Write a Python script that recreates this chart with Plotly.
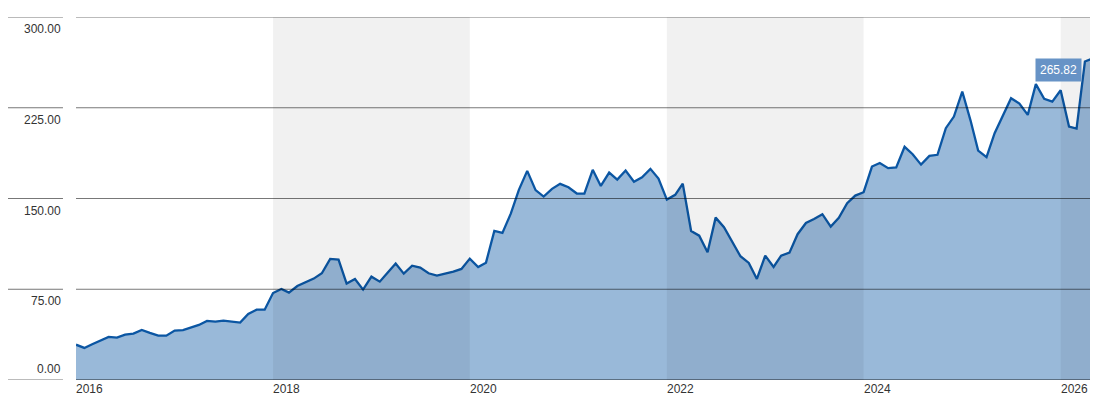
import pandas as pd
import plotly.graph_objects as go

# ---- data (monthly) ----
dates = list(pd.date_range("2016-01-01", periods=125, freq="MS"))
values = [
    29.2, 26.5, 29.5, 32.5, 35.6, 35.0, 37.5, 38.3, 41.3, 38.9, 36.6, 36.6,
    40.8, 41.3, 43.6, 45.5, 48.8, 48.2, 49.0, 48.5, 47.4, 54.6, 58.1, 58.1,
    71.9, 75.2, 72.2, 77.7, 80.5, 83.8, 88.2, 100.1, 99.5, 79.7, 83.5, 74.7,
    85.4, 81.3, 88.5, 96.2, 87.9, 94.5, 92.9, 88.2, 86.3, 87.9, 89.6, 91.8,
    100.3, 93.4, 97.0, 123.2, 121.6, 137.5, 157.1, 172.8, 156.9, 151.6, 158.0, 162.1,
    159.3, 154.1, 154.1, 173.7, 160.4, 171.4, 165.6, 173.1, 163.9, 167.6, 174.5, 166.5,
    149.1, 153.0, 162.3, 123.2, 119.3, 105.6, 134.2, 126.3, 113.5, 102.3, 96.8, 83.5,
    102.8, 93.4, 102.8, 105.3, 120.5, 129.8, 133.1, 137.0, 126.8, 134.0, 146.1, 152.4,
    155.2, 176.4, 179.4, 175.1, 175.6, 192.7, 186.6, 178.0, 185.2, 186.1, 208.1, 217.7,
    238.4, 214.2, 189.6, 184.2, 204.0, 218.6, 232.9, 228.5, 219.1, 244.5, 232.4, 230.1,
    239.5, 209.5, 207.8, 263.2, 265.82,
]
y_ticks = [0, 75, 150, 225, 300]
y_tick_labels = ["0.00", "75.00", "150.00", "225.00", "300.00"]
x_tick_years = ["2016", "2018", "2020", "2022", "2024", "2026"]
bands = [("2018-01-01", "2020-01-01"), ("2022-01-01", "2024-01-01"), ("2026-01-01", "2026-05-01")]
last_label = "265.82"

FONT = "Liberation Sans Narrow, Arial Narrow, Liberation Sans, Arial, sans-serif"
TXT = "#333333"
FS = 12

fig = go.Figure()
fig.add_trace(go.Scatter(
    x=dates, y=values, mode="lines",
    line=dict(color="#0b56a3", width=2.3),
    fill="tozeroy", fillcolor="#99b9d9",
    hoverinfo="skip", showlegend=False,
))

shapes = []
for x0, x1 in bands:
    shapes.append(dict(type="rect", xref="x", yref="paper", x0=x0, x1=x1, y0=0, y1=1,
                       fillcolor="rgba(0,0,0,0.055)", line=dict(width=0), layer="above"))
for v in y_ticks:
    shapes.append(dict(type="line", xref="paper", yref="y", x0=0, x1=1, y0=v, y1=v,
                       line=dict(color="rgba(0,0,0,0.53)", width=1.5 if v == 0 else 1),
                       layer="above"))
    shapes.append(dict(type="line", xref="paper", yref="y", x0=-0.0669, x1=-0.0128, y0=v, y1=v,
                       line=dict(color="#777777", width=1), layer="above"))

annotations = []
for v, lab in zip(y_ticks, y_tick_labels):
    if v == 0:
        annotations.append(dict(xref="paper", yref="y", x=-0.0128, y=v, text=lab, showarrow=False,
                                xanchor="right", yanchor="bottom", yshift=2,
                                font=dict(family=FONT, size=FS, color=TXT)))
    else:
        annotations.append(dict(xref="paper", yref="y", x=-0.0128, y=v, text=lab, showarrow=False,
                                xanchor="right", yanchor="top", yshift=-3,
                                font=dict(family=FONT, size=FS, color=TXT)))
for yr in x_tick_years:
    annotations.append(dict(xref="x", yref="paper", x=f"{yr}-01-01", y=0, text=yr, showarrow=False,
                            xanchor="left", yanchor="top", xshift=-2, yshift=0,
                            font=dict(family=FONT, size=FS, color=TXT)))
annotations.append(dict(xref="x", yref="y", x=dates[-1], y=values[-1], text=last_label,
                        showarrow=False, xanchor="right", yanchor="top", xshift=-11, yshift=0,
                        bgcolor="#6793c6", borderpad=4,
                        font=dict(family=FONT, size=FS, color="white")))

# page body has an 8px margin: figure occupies page x 8..1098, y 8..407
fig.update_layout(
    width=1090, height=399,
    margin=dict(l=68, r=5, t=9, b=27),
    paper_bgcolor="white", plot_bgcolor="white",
    shapes=shapes, annotations=annotations,
    xaxis=dict(type="date", range=["2016-01-01", "2026-05-01"], showgrid=False,
               showticklabels=False, zeroline=False, showline=False, fixedrange=True),
    yaxis=dict(range=[0, 300], showgrid=False, showticklabels=False, zeroline=False,
               showline=False, fixedrange=True),
)
fig.write_html("out.html")
